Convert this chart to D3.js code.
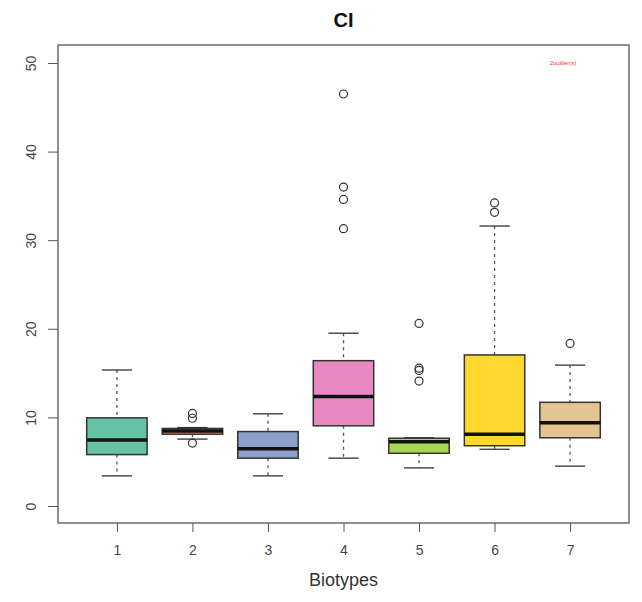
<!DOCTYPE html>
<html>
<head>
<meta charset="utf-8">
<script src="https://cdn.jsdelivr.net/npm/d3@7"></script>
<style>
  body { margin: 0; background: #fff; }
  text { font-family: "Liberation Sans", Arial, sans-serif; }
</style>
</head>
<body>
<div id="chart"></div>
<script>
var biotypes = ["1", "2", "3", "4", "5", "6", "7"];
var colors = ["#66C2A5", "#FC8D62", "#8DA0CB", "#E78AC3", "#A6D854", "#FFD92F", "#E5C494"];
var whiskerLow = [3.4, 7.55, 3.4, 5.4, 4.3, 6.4, 4.5];
var q1 = [5.8, 8.1, 5.4, 9.05, 5.95, 6.8, 7.7];
var median = [7.45, 8.45, 6.45, 12.35, 7.25, 8.1, 9.4];
var q3 = [9.95, 8.75, 8.4, 16.4, 7.65, 17.05, 11.7];
var whiskerHigh = [15.35, 8.85, 10.4, 19.5, 7.7, 31.6, 15.9];
var outliers = [[], [10.45, 9.9, 7.1], [], [46.5, 36.0, 34.6, 31.3], [20.6, 15.55, 15.3, 14.1], [34.2, 33.15], [18.35]];
var yTicks = [0, 10, 20, 30, 40, 50];

function init() {
    var w = 642;
    var h = 602;
    var left = 58, right = 629, top = 45, bottom = 523;

    var svg = d3.select("#chart")
        .append("svg")
        .attr("width", w)
        .attr("height", h);

    var x = d3.scaleLinear().domain([0.22, 7.78]).range([left, right]);
    var y = d3.scaleLinear().domain([-1.92, 52.03]).range([bottom, top]);
    var boxW = x(0.8) - x(0);

    var data = biotypes.map(function (b, i) {
        return {
            pos: i + 1, color: colors[i], lo: whiskerLow[i], q1: q1[i],
            med: median[i], q3: q3[i], hi: whiskerHigh[i], out: outliers[i]
        };
    });

    // title
    svg.append("text")
        .attr("x", (left + right) / 2)
        .attr("y", 27)
        .attr("text-anchor", "middle")
        .attr("font-size", 20)
        .attr("font-weight", "bold")
        .attr("fill", "#111")
        .text("CI");

    // axes
    svg.append("g")
        .attr("transform", "translate(" + left + ",0)")
        .call(d3.axisLeft(y).tickValues(yTicks).tickSize(10).tickSizeOuter(0))
        .call(function (g) {
            g.select(".domain").remove();
            g.selectAll("line").attr("stroke", "#555");
            g.selectAll("text")
                .attr("x", 0)
                .attr("y", 0)
                .attr("dy", "0.35em")
                .attr("transform", "translate(-27,0) rotate(-90)")
                .attr("text-anchor", "middle")
                .attr("font-size", 14)
                .attr("fill", "#444");
        });

    svg.append("g")
        .attr("transform", "translate(0," + bottom + ")")
        .call(d3.axisBottom(x).tickValues([1, 2, 3, 4, 5, 6, 7]).tickFormat(d3.format("d")).tickSize(9).tickSizeOuter(0))
        .call(function (g) {
            g.select(".domain").remove();
            g.selectAll("line").attr("stroke", "#555");
            g.selectAll("text")
                .attr("y", 22)
                .attr("font-size", 14)
                .attr("fill", "#444");
        });

    svg.append("text")
        .attr("x", (left + right) / 2)
        .attr("y", 586)
        .attr("text-anchor", "middle")
        .attr("font-size", 18)
        .attr("fill", "#333")
        .text("Biotypes");

    // frame
    svg.append("rect")
        .attr("x", left)
        .attr("y", top)
        .attr("width", right - left)
        .attr("height", bottom - top)
        .attr("fill", "none")
        .attr("stroke", "#555")
        .attr("stroke-width", 1.3);

    var g = svg.selectAll(".box")
        .data(data)
        .enter()
        .append("g")
        .attr("class", "box");

    // whiskers
    g.append("line")
        .attr("x1", function (d) { return x(d.pos); })
        .attr("x2", function (d) { return x(d.pos); })
        .attr("y1", function (d) { return y(d.hi); })
        .attr("y2", function (d) { return y(d.q3); })
        .attr("stroke", "#555")
        .attr("stroke-width", 1.3)
        .attr("stroke-dasharray", "3,4");
    g.append("line")
        .attr("x1", function (d) { return x(d.pos); })
        .attr("x2", function (d) { return x(d.pos); })
        .attr("y1", function (d) { return y(d.q1); })
        .attr("y2", function (d) { return y(d.lo); })
        .attr("stroke", "#555")
        .attr("stroke-width", 1.3)
        .attr("stroke-dasharray", "3,4");
    ["hi", "lo"].forEach(function (k) {
        g.append("line")
            .attr("x1", function (d) { return x(d.pos) - boxW / 4; })
            .attr("x2", function (d) { return x(d.pos) + boxW / 4; })
            .attr("y1", function (d) { return y(d[k]); })
            .attr("y2", function (d) { return y(d[k]); })
            .attr("stroke", "#333")
            .attr("stroke-width", 1.3);
    });

    // boxes
    g.append("rect")
        .attr("x", function (d) { return x(d.pos) - boxW / 2; })
        .attr("y", function (d) { return y(d.q3); })
        .attr("width", boxW)
        .attr("height", function (d) { return y(d.q1) - y(d.q3); })
        .attr("fill", function (d) { return d.color; })
        .attr("stroke", "#333")
        .attr("stroke-width", 1.5);

    g.append("line")
        .attr("x1", function (d) { return x(d.pos) - boxW / 2; })
        .attr("x2", function (d) { return x(d.pos) + boxW / 2; })
        .attr("y1", function (d) { return y(d.med); })
        .attr("y2", function (d) { return y(d.med); })
        .attr("stroke", "#111")
        .attr("stroke-width", 3.5);

    // outliers
    g.selectAll("circle")
        .data(function (d) { return d.out.map(function (v) { return { pos: d.pos, v: v }; }); })
        .enter()
        .append("circle")
        .attr("cx", function (d) { return x(d.pos); })
        .attr("cy", function (d) { return y(d.v); })
        .attr("r", 4)
        .attr("fill", "none")
        .attr("stroke", "#333")
        .attr("stroke-width", 1.2);

    svg.append("text")
        .attr("x", 563)
        .attr("y", 65)
        .attr("text-anchor", "middle")
        .attr("font-size", 6)
        .attr("fill", "#e33")
        .text("2outlier(s)");
}
window.onload = init;
</script>
</body>
</html>
